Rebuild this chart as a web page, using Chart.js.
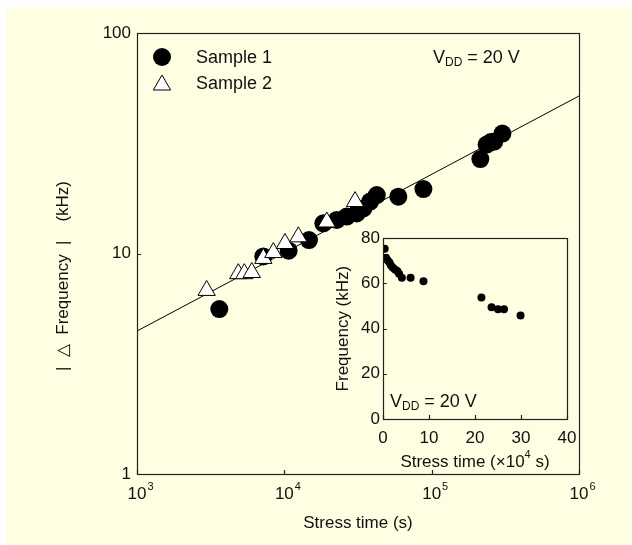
<!DOCTYPE html>
<html><head><meta charset="utf-8">
<script src="https://cdn.jsdelivr.net/npm/chart.js@4.4.0/dist/chart.umd.min.js"></script>
<style>
html,body{margin:0;padding:0;background:#fff;}
#wrap{position:relative;width:632px;height:545px;overflow:hidden;}
#main{position:absolute;left:0;top:0;}
#inset{position:absolute;left:330px;top:225px;}
</style></head><body>
<div id="wrap"><canvas id="main" width="632" height="545"></canvas><canvas id="inset" width="260" height="250"></canvas></div>
<script>
// ---- data ----
const sample1Time  = [3620, 7200, 10700, 14700, 18400, 22700, 26500, 31000, 34400, 38200, 42400, 59400, 87900, 214000, 236000, 252000, 266000, 302000];
const sample1Delta = [5.6, 9.7, 10.3, 11.5, 13.7, 14.2, 14.7, 15.2, 16.0, 17.2, 18.4, 18.1, 19.6, 26.8, 31.2, 32.0, 32.2, 35.0];
const sample2Time  = [2970, 4870, 5350, 6010, 7200, 8420, 10100, 12450, 19400, 30200];
const sample2Delta = [6.8, 8.1, 8.1, 8.2, 9.5, 10.1, 11.1, 11.9, 13.9, 17.2];
const fitTime  = [1000, 1000000];
const fitDelta = [4.45, 51.8];
const xTickValues = [1000, 10000, 100000, 1000000];
const xTickExponents = ['3', '4', '5', '6'];
const yTickValues = [1, 10, 100];
const insetTime = [0.37, 0.65, 1.0, 1.4, 1.7, 2.1, 2.6, 3.1, 3.5, 4.1, 6.0, 8.8, 21.4, 23.6, 25.0, 26.3, 29.9];
const insetFreq = [75.3, 71.4, 70.2, 69.2, 68.0, 67.0, 66.2, 65.5, 64.3, 62.5, 62.5, 61.0, 53.8, 49.4, 48.6, 48.6, 45.8];
const insetXTicks = [0, 10, 20, 30, 40];
const insetYTicks = [0, 20, 40, 60, 80];
const legendLabels = ['Sample 1', 'Sample 2'];

const FONT = '"Liberation Sans", Arial, Helvetica, sans-serif';
const TXT = '#111';
const BG = '#FEFEE2';

function pts(xs, ys) { return xs.map((x, i) => ({x: x, y: ys[i]})); }

function drawVdd(ctx, x, y) {
  ctx.save();
  ctx.fillStyle = TXT;
  ctx.textBaseline = 'middle';
  ctx.textAlign = 'left';
  ctx.font = '18px ' + FONT;
  ctx.fillText('V', x, y);
  let w = ctx.measureText('V').width;
  ctx.font = '12px ' + FONT;
  ctx.fillText('DD', x + w, y + 5);
  w += ctx.measureText('DD').width;
  ctx.font = '18px ' + FONT;
  ctx.fillText(' = 20 V', x + w, y);
  ctx.restore();
}

function triPath(ctx, cx, cy, r) {
  ctx.beginPath();
  ctx.moveTo(cx, cy - r);
  ctx.lineTo(cx + r * Math.sin(Math.PI / 3), cy + r / 2);
  ctx.lineTo(cx - r * Math.sin(Math.PI / 3), cy + r / 2);
  ctx.closePath();
}

const mainDecor = {
  id: 'mainDecor',
  beforeDraw(chart) {
    const ctx = chart.ctx;
    ctx.save();
    ctx.fillStyle = BG;
    ctx.fillRect(6, 7, 626, 538);
    ctx.restore();
  },
  afterDraw(chart) {
    const ctx = chart.ctx, a = chart.chartArea;
    const xs = chart.scales.x, ys = chart.scales.y;
    ctx.save();
    ctx.strokeStyle = '#222';
    ctx.lineWidth = 1.2;
    ctx.strokeRect(Math.round(a.left) + 0.5, Math.round(a.top) + 0.5, Math.round(a.right - a.left), Math.round(a.bottom - a.top));
    // inward ticks
    ctx.beginPath();
    xTickValues.forEach(v => {
      const px = Math.round(xs.getPixelForValue(v)) + 0.5;
      ctx.moveTo(px, a.bottom); ctx.lineTo(px, a.bottom - 4);
    });
    yTickValues.forEach(v => {
      const py = Math.round(ys.getPixelForValue(v)) + 0.5;
      ctx.moveTo(a.left, py); ctx.lineTo(a.left + 4, py);
    });
    ctx.stroke();
    // x tick labels with superscripts
    ctx.fillStyle = TXT;
    ctx.textBaseline = 'middle';
    xTickValues.forEach((v, i) => {
      const px = xs.getPixelForValue(v);
      ctx.font = '17px ' + FONT;
      ctx.textAlign = 'center';
      ctx.fillText('10', px, a.bottom + 20);
      const w = ctx.measureText('10').width;
      ctx.font = '11px ' + FONT;
      ctx.textAlign = 'left';
      ctx.fillText(xTickExponents[i], px + w / 2 + 1, a.bottom + 13);
    });
    // axis titles
    ctx.font = '17px ' + FONT;
    ctx.textAlign = 'center';
    ctx.fillText('Stress time (s)', (a.left + a.right) / 2, 523);
    ctx.save();
    ctx.translate(63, 276);
    ctx.rotate(-Math.PI / 2);
    ctx.fillText('|  \u25B3  Frequency  |    (kHz)', 0, 0);
    ctx.restore();
    // legend
    ctx.beginPath();
    ctx.arc(162, 57, 9, 0, Math.PI * 2);
    ctx.fillStyle = '#000';
    ctx.fill();
    triPath(ctx, 162, 85, 10);
    ctx.fillStyle = '#fff';
    ctx.fill();
    ctx.lineWidth = 1;
    ctx.strokeStyle = '#000';
    ctx.stroke();
    ctx.fillStyle = TXT;
    ctx.font = '18px ' + FONT;
    ctx.textAlign = 'left';
    ctx.fillText(legendLabels[0], 196, 58);
    ctx.fillText(legendLabels[1], 196, 84);
    ctx.restore();
    drawVdd(ctx, 433, 58);
  }
};

new Chart(document.getElementById('main'), {
  type: 'scatter',
  data: {
    datasets: [
      { label: legendLabels[1], data: pts(sample2Time, sample2Delta), order: 0,
        pointStyle: 'triangle', pointRadius: 10, pointBackgroundColor: '#fff', pointBorderColor: '#000', pointBorderWidth: 1 },
      { label: legendLabels[0], data: pts(sample1Time, sample1Delta), order: 1,
        pointStyle: 'circle', pointRadius: 9, pointBackgroundColor: '#000', pointBorderColor: '#000', pointBorderWidth: 0 },
      { type: 'line', label: 'fit', data: pts(fitTime, fitDelta), order: 2,
        borderColor: '#000', borderWidth: 1, pointRadius: 0, fill: false, showLine: true }
    ]
  },
  options: {
    responsive: false, animation: false, devicePixelRatio: 1,
    layout: { padding: { left: 0, top: 33, right: 53, bottom: 0 } },
    plugins: { legend: { display: false }, tooltip: { enabled: false } },
    scales: {
      x: {
        type: 'logarithmic', min: 1000, max: 1000000,
        afterBuildTicks: s => { s.ticks = xTickValues.map(v => ({value: v})); },
        afterFit: s => { s.height = 71; },
        grid: { display: false, drawTicks: false },
        border: { display: false },
        ticks: { display: false }
      },
      y: {
        type: 'logarithmic', min: 1, max: 100,
        afterBuildTicks: s => { s.ticks = yTickValues.map(v => ({value: v})); },
        afterFit: s => { s.width = 137; },
        grid: { display: false, drawTicks: false },
        border: { display: false },
        ticks: { color: TXT, font: { family: FONT, size: 17 }, padding: 6, callback: v => String(v) }
      }
    }
  },
  plugins: [mainDecor]
});

const insetDecor = {
  id: 'insetDecor',
  afterDraw(chart) {
    const ctx = chart.ctx, a = chart.chartArea;
    const xs = chart.scales.x, ys = chart.scales.y;
    ctx.save();
    ctx.strokeStyle = '#222';
    ctx.lineWidth = 1.2;
    ctx.strokeRect(Math.round(a.left) + 0.5, Math.round(a.top) + 0.5, Math.round(a.right - a.left), Math.round(a.bottom - a.top));
    ctx.beginPath();
    insetXTicks.forEach(v => {
      const px = Math.round(xs.getPixelForValue(v)) + 0.5;
      ctx.moveTo(px, a.bottom); ctx.lineTo(px, a.bottom - 4);
    });
    insetYTicks.forEach(v => {
      const py = Math.round(ys.getPixelForValue(v)) + 0.5;
      ctx.moveTo(a.left, py); ctx.lineTo(a.left + 4, py);
    });
    ctx.stroke();
    ctx.fillStyle = TXT;
    ctx.textBaseline = 'middle';
    // x title with superscript
    const parts = [['Stress time (\u00D710', 17, 0], ['4', 11, -7], [' s)', 17, 0]];
    let total = 0;
    parts.forEach(p => { ctx.font = p[1] + 'px ' + FONT; total += ctx.measureText(p[0]).width; });
    let x = (a.left + a.right) / 2 - total / 2;
    ctx.textAlign = 'left';
    parts.forEach(p => { ctx.font = p[1] + 'px ' + FONT; ctx.fillText(p[0], x, 237 + p[2]); x += ctx.measureText(p[0]).width; });
    // y title
    ctx.font = '17px ' + FONT;
    ctx.textAlign = 'center';
    ctx.translate(13, (a.top + a.bottom) / 2);
    ctx.rotate(-Math.PI / 2);
    ctx.fillText('Frequency (kHz)', 0, 0);
    ctx.restore();
    drawVdd(ctx, 60, 177);
  }
};

new Chart(document.getElementById('inset'), {
  type: 'scatter',
  data: {
    datasets: [
      { label: 'inset', data: pts(insetTime, insetFreq),
        pointStyle: 'circle', pointRadius: 4, pointBackgroundColor: '#000', pointBorderColor: '#000', pointBorderWidth: 0 }
    ]
  },
  options: {
    responsive: false, animation: false, devicePixelRatio: 1,
    layout: { padding: { left: 0, top: 12, right: 23, bottom: 0 } },
    plugins: { legend: { display: false }, tooltip: { enabled: false } },
    scales: {
      x: {
        type: 'linear', min: 0, max: 40,
        afterBuildTicks: s => { s.ticks = insetXTicks.map(v => ({value: v})); },
        afterFit: s => { s.height = 56; },
        grid: { display: false, drawTicks: false },
        border: { display: false },
        ticks: { color: TXT, font: { family: FONT, size: 17 }, padding: 9, maxRotation: 0 }
      },
      y: {
        type: 'linear', min: 0, max: 80,
        afterBuildTicks: s => { s.ticks = insetYTicks.map(v => ({value: v})); },
        afterFit: s => { s.width = 53; },
        grid: { display: false, drawTicks: false },
        border: { display: false },
        ticks: { color: TXT, font: { family: FONT, size: 17 }, padding: 3 }
      }
    }
  },
  plugins: [insetDecor]
});
</script>
</body></html>
